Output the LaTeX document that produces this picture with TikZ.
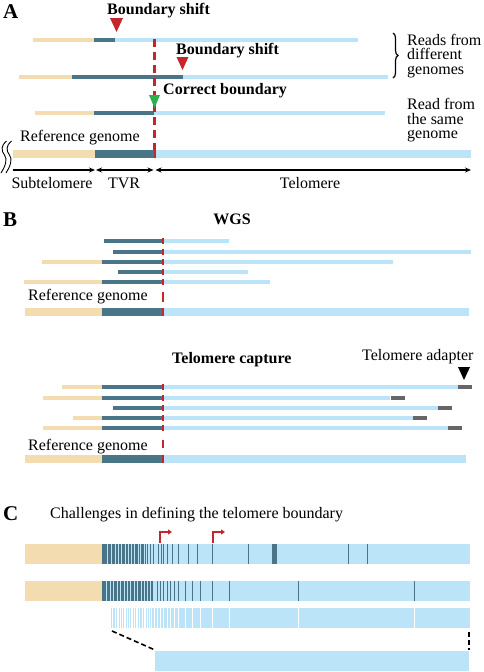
\documentclass[tikz,border=0pt]{standalone}
\usepackage{fontspec}
\setmainfont{Liberation Serif}
\usetikzlibrary{arrows.meta,decorations.pathreplacing}
\definecolor{beige}{HTML}{F3DCAF}
\definecolor{tvr}{HTML}{4A7488}
\definecolor{telo}{HTML}{BCE4F9}
\definecolor{bred}{HTML}{C4262C}
\definecolor{bgreen}{HTML}{2BB04A}
\definecolor{adapt}{HTML}{666666}
% y, half thickness, x0 (beige start), x1 (tvr start), x2 (telo start), x3 (end)
\newcommand{\readbar}[6]{%
  \fill[beige] (#3,{#1-#2}) rectangle (#4,{#1+#2});
  \fill[tvr] (#4,{#1-#2}) rectangle (#5,{#1+#2});
  \fill[telo] (#5,{#1-#2}) rectangle (#6,{#1+#2});
}
\newcommand{\adapterbar}[3]{\fill[adapt] (#2,{#1-2}) rectangle (#3,{#1+2});}
\begin{document}
\begin{tikzpicture}[x=1pt,y=-1pt,
  txt/.style={inner sep=0pt, font=\fontsize{16}{14.5}\selectfont},
  btxt/.style={inner sep=0pt, font=\bfseries\fontsize{16}{14.5}\selectfont},
  panel/.style={inner sep=0pt, font=\bfseries\fontsize{21}{21}\selectfont},
  redtick/.style={bred, line width=2pt},
  reddash/.style={bred, line width=2.2pt, dash pattern=on 8pt off 5pt},
  dimarrow/.style={line width=1.1pt, {Stealth[length=6pt,width=5pt]}-{Stealth[length=6pt,width=5pt]}},
  darkline/.style={tvr, line width=0.9pt},
  whiteline/.style={white, line width=0.9pt},
  blackdash/.style={black, line width=1.6pt, dash pattern=on 5pt off 3pt},
  bent/.style={bred, line width=1.6pt, -{Triangle[length=4pt,width=5pt]}}]
\useasboundingbox (0,0) rectangle (484,672);
%% ---------------- Panel A
\node[panel, anchor=base west] (pA) at (3,18.5) {A};
\readbar{39.5}{2}{33}{94}{115}{358}
\readbar{77}{2}{19}{72}{183}{388}
\readbar{113}{2}{35}{94}{154}{385}
\readbar{154}{4}{13}{95}{155}{471}
\fill[bred] (154,150) rectangle (156,158);
\draw[reddash] (154.5,39) -- (154.5,150);
\fill[bred] (110,18) -- (123,18) -- (116.5,32) -- cycle;
\fill[bred] (176.5,57) -- (188.5,57) -- (182.5,70) -- cycle;
\fill[bgreen] (149,95) -- (160,95) -- (154.5,108) -- cycle;
\node[btxt, anchor=base west] (bs1) at (107,14.3) {Boundary shift};
\node[btxt, anchor=base west] (bs2) at (176,54.5) {Boundary shift};
\node[btxt, anchor=base west] (cb) at (163,94.5) {Correct boundary};
\draw[decorate, decoration={brace, amplitude=5pt}, line width=1.2pt] (393,33) -- (393,78);
\node[txt, anchor=north west, align=left] (rdiff) at (407,34) {Reads from\\different\\genomes};
\node[txt, anchor=north west, align=left] (rsame) at (407,98.5) {Read from\\the same\\genome};
\node[txt, anchor=base west] (refA) at (20,141.7) {Reference genome};
\draw[line width=0.9pt] (6.5,141) .. controls (1,145) and (1,151) .. (4.5,155) .. controls (8,159) and (5,167) .. (1,173);
\draw[line width=0.9pt] (11.5,141) .. controls (6,145) and (6,151) .. (9.5,155) .. controls (13,159) and (10,167) .. (6,173);
\coordinate (a0) at (13,170);
\coordinate (a1) at (95,170);
\coordinate (a2) at (154.5,170);
\coordinate (a3) at (471,170);
\draw[line width=1.1pt, -{Stealth[length=6pt,width=5pt]}] (a0) -- (a1);
\draw[dimarrow] ([xshift=1pt]a1) -- ([xshift=-1pt]a2);
\draw[dimarrow] ([xshift=1pt]a2) -- (a3);
\node[txt, anchor=base] (lsub) at (52,188) {Subtelomere};
\node[txt, anchor=base] (ltvr) at (124,188) {TVR};
\node[txt, anchor=base] (ltel) at (310,188) {Telomere};
%% ---------------- Panel B (WGS)
\node[panel, anchor=base west] (pB) at (3,226.7) {B};
\node[btxt, anchor=base] (wgs) at (232,224.5) {WGS};
\readbar{241}{2}{104}{104}{162}{229}
\readbar{252}{2}{113}{113}{162}{471}
\readbar{262}{2}{42}{102}{162}{393}
\readbar{272}{2}{118}{118}{162}{248}
\readbar{282}{2}{24}{102}{162}{270}
\readbar{312}{4}{25}{102}{163}{469}
\foreach \yy in {241,252,262,272,282} {\draw[redtick] (162.5,\yy-3) -- (162.5,\yy+3);}
\draw[redtick] (162.5,292) -- (162.5,302);
\draw[redtick] (162.5,308) -- (162.5,316);
\node[txt, anchor=base west] (refB) at (28,300) {Reference genome};
%% ---------------- Panel B (Telomere capture)
\node[btxt, anchor=base west] (tcap) at (172,363.3) {Telomere capture};
\node[txt, anchor=base west] (tadp) at (362,360.7) {Telomere adapter};
\fill[black] (458,367) -- (470,367) -- (464,380) -- cycle;
\readbar{387}{2}{62}{102}{162}{458}
\adapterbar{387}{458}{472}
\readbar{398}{2}{43}{102}{162}{390}
\adapterbar{398}{390.5}{404.5}
\readbar{408}{2}{113}{113}{162}{437.5}
\adapterbar{408}{438}{452}
\readbar{418}{2}{73}{102}{162}{412.5}
\adapterbar{418}{413}{427}
\readbar{428}{2}{43}{102}{162}{447.5}
\adapterbar{428}{448}{462}
\readbar{459}{4}{25}{102}{163}{466}
\foreach \yy in {387,398,408,418,428} {\draw[redtick] (162.5,\yy-3) -- (162.5,\yy+3);}
\draw[redtick] (162.5,440) -- (162.5,448);
\draw[redtick] (162.5,455) -- (162.5,463);
\node[txt, anchor=base west] (refB2) at (28,450) {Reference genome};
%% ---------------- Panel C
\node[panel, anchor=base west] (pC) at (3,520.7) {C};
\node[txt, anchor=base west] (chal) at (50,518.3) {Challenges in defining the telomere boundary};
% bar 1
\fill[beige] (25,544) rectangle (102,564);
\fill[telo] (102,544) rectangle (470,564);
\fill[tvr] (102,544) rectangle (148,564);
\foreach \xx in {107,111,115,118,121,125,128.5,131,134.5,138,140.5,144,146.5}
  {\draw[telo, line width=1pt] (\xx,544) -- (\xx,564);}
\foreach \xx in {150,153,158,161,163,167,172,178,188,197,212,248,348,367}
  {\draw[darkline] (\xx,544) -- (\xx,564);}
\fill[tvr] (272,544) rectangle (277,564);
% bar 2
\fill[beige] (25,581) rectangle (102,601);
\fill[telo] (102,581) rectangle (470,601);
\fill[tvr] (102,581) rectangle (153,601);
\foreach \xx in {106,110,113,117,120,124,127,130,134,137,141,144,147,150}
  {\draw[telo, line width=0.8pt] (\xx,581) -- (\xx,601);}
\foreach \xx in {157,160,163,167,170,174,178,185,192,200,212,229,298,414}
  {\draw[darkline] (\xx,581) -- (\xx,601);}
% bar 3
\fill[telo] (152,608) rectangle (470,628);
\foreach \xx in {111,113,114,116,119,121,123,126,128,130,133,135,138,140,141,143,146,148,150}
  {\draw[telo, line width=1pt] (\xx,608) -- (\xx,628);}
\foreach \xx in {154,157,160,163,167,170,174,178,185,192,200,212,229,298,414}
  {\draw[whiteline] (\xx,608) -- (\xx,628);}
% zoom lines and bar 4
\fill[telo] (155,651) rectangle (469,671);
\coordinate (z0) at (112,631);
\coordinate (z1) at (155,650);
\coordinate (z2) at (469,632);
\coordinate (z3) at (469,650);
\draw[blackdash] (z0) -- (z1);
\draw[blackdash] (z2) -- (z3);
\coordinate (r1) at (160,543);
\coordinate (r2) at (213,543);
\draw[bent] (r1) -- ++(0,-11) -- ++(12,0);
\draw[bent] (r2) -- ++(0,-11) -- ++(12,0);
\end{tikzpicture}
\end{document}
